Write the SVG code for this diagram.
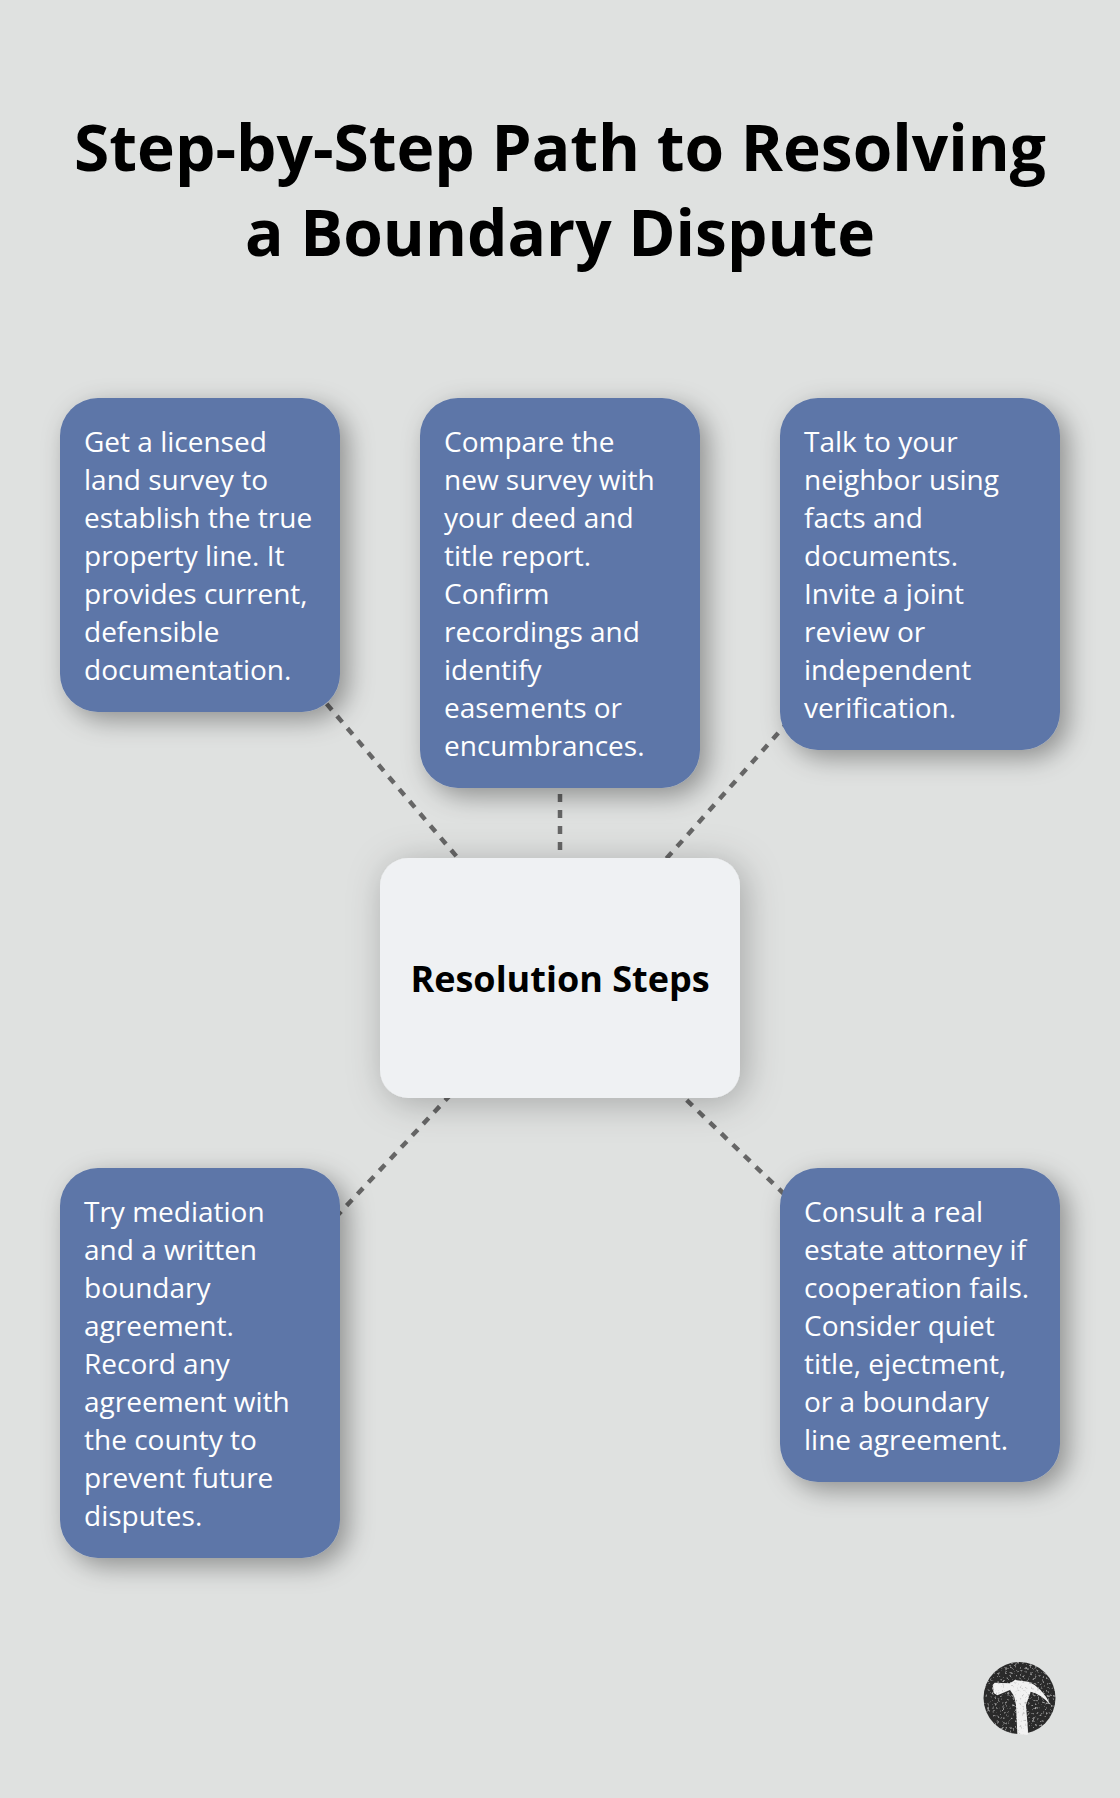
<svg xmlns="http://www.w3.org/2000/svg" width="1120" height="1798" viewBox="0 0 1120 1798">
<style>
text{font-family:"Open Sans","Noto Sans","Liberation Sans",sans-serif}
.t{font-size:28px;fill:#fff}
.b{fill:#5d76a8;filter:url(#s)}
.c{fill:#eff1f3;filter:url(#s2)}
.l{stroke:#666;stroke-width:4.5;stroke-dasharray:8 8;fill:none}
.h{font-size:64px;font-weight:700;fill:#000;text-anchor:middle}
</style>
<defs>
<filter id="s" x="-25%" y="-25%" width="160%" height="160%"><feDropShadow dx="8" dy="8" stdDeviation="13" flood-color="#000" flood-opacity=".36"/></filter>
<filter id="s2" x="-25%" y="-25%" width="160%" height="160%"><feDropShadow dx="5" dy="5" stdDeviation="18" flood-color="#000" flood-opacity=".26"/></filter>
<filter id="lt" x="0" y="0" width="100%" height="100%"><feTurbulence type="fractalNoise" baseFrequency=".4" numOctaves="2" seed="3"/><feColorMatrix values="0 0 0 0 .5 0 0 0 0 .5 0 0 0 0 .5 0 0 0 3 -1.75"/><feComposite in2="SourceGraphic" operator="in"/><feMerge><feMergeNode in="SourceGraphic"/><feMergeNode/></feMerge></filter>
<filter id="dk" x="-5%" y="-5%" width="110%" height="110%"><feGaussianBlur in="SourceGraphic" stdDeviation=".5" result="g"/><feTurbulence type="fractalNoise" baseFrequency=".4" numOctaves="2" seed="8"/><feColorMatrix values="0 0 0 0 .35 0 0 0 0 .35 0 0 0 0 .35 0 0 0 3 -1.75"/><feComposite in2="g" operator="in"/><feMerge><feMergeNode in="g"/><feMergeNode/></feMerge></filter>
</defs>
<rect width="1120" height="1798" fill="#dfe1e0"/>
<g id="title"><text class="h" x="560" y="171">Step-by-Step Path to Resolving</text><text class="h" x="560" y="256">a Boundary Dispute</text></g>
<g id="connectors">
<line class="l" x1="560" y1="978" x2="200" y2="555"/>
<line class="l" x1="560" y1="978" x2="560" y2="592"/>
<line class="l" x1="560" y1="978" x2="920" y2="574"/>
<line class="l" x1="560" y1="978" x2="200" y2="1362"/>
<line class="l" x1="560" y1="978" x2="920" y2="1325"/>
</g>
<g id="n1"><rect class="b" x="60" y="398" width="280" height="314" rx="38"/><text class="t"><tspan x="84" y="452">Get a licensed</tspan><tspan x="84" y="490">land survey to</tspan><tspan x="84" y="528">establish the true</tspan><tspan x="84" y="566">property line. It</tspan><tspan x="84" y="604">provides current,</tspan><tspan x="84" y="642">defensible</tspan><tspan x="84" y="680">documentation.</tspan></text></g>
<g id="n2"><rect class="b" x="420" y="398" width="280" height="390" rx="38"/><text class="t"><tspan x="444" y="452">Compare the</tspan><tspan x="444" y="490">new survey with</tspan><tspan x="444" y="528">your deed and</tspan><tspan x="444" y="566">title report.</tspan><tspan x="444" y="604">Confirm</tspan><tspan x="444" y="642">recordings and</tspan><tspan x="444" y="680">identify</tspan><tspan x="444" y="718">easements or</tspan><tspan x="444" y="756">encumbrances.</tspan></text></g>
<g id="n3"><rect class="b" x="780" y="398" width="280" height="352" rx="38"/><text class="t"><tspan x="804" y="452">Talk to your</tspan><tspan x="804" y="490">neighbor using</tspan><tspan x="804" y="528">facts and</tspan><tspan x="804" y="566">documents.</tspan><tspan x="804" y="604">Invite a joint</tspan><tspan x="804" y="642">review or</tspan><tspan x="804" y="680">independent</tspan><tspan x="804" y="718">verification.</tspan></text></g>
<g id="center"><rect class="c" x="380" y="858" width="360" height="240" rx="28"/><text x="560" y="992" font-size="36" font-weight="700" text-anchor="middle" fill="#000">Resolution Steps</text></g>
<g id="n4"><rect class="b" x="60" y="1168" width="280" height="390" rx="38"/><text class="t"><tspan x="84" y="1222">Try mediation</tspan><tspan x="84" y="1260">and a written</tspan><tspan x="84" y="1298">boundary</tspan><tspan x="84" y="1336">agreement.</tspan><tspan x="84" y="1374">Record any</tspan><tspan x="84" y="1412">agreement with</tspan><tspan x="84" y="1450">the county to</tspan><tspan x="84" y="1488">prevent future</tspan><tspan x="84" y="1526">disputes.</tspan></text></g>
<g id="n5"><rect class="b" x="780" y="1168" width="280" height="314" rx="38"/><text class="t"><tspan x="804" y="1222">Consult a real</tspan><tspan x="804" y="1260">estate attorney if</tspan><tspan x="804" y="1298">cooperation fails.</tspan><tspan x="804" y="1336">Consider quiet</tspan><tspan x="804" y="1374">title, ejectment,</tspan><tspan x="804" y="1412">or a boundary</tspan><tspan x="804" y="1450">line agreement.</tspan></text></g>
<g id="logo"><circle cx="1019.5" cy="1698" r="36" fill="#2a2a2a" filter="url(#lt)"/><g filter="url(#dk)"><path transform="translate(960 1640) scale(.3333)" fill="#f2f2f2" d="M98,135 L104,128 L150,130 L165,120 L205,125 Q245,140 272,195 Q240,160 212,155 L198,195 L205,285 L172,282 L168,195 L162,168 L150,150 L112,166 L102,160 Z"/></g></g>
</svg>
